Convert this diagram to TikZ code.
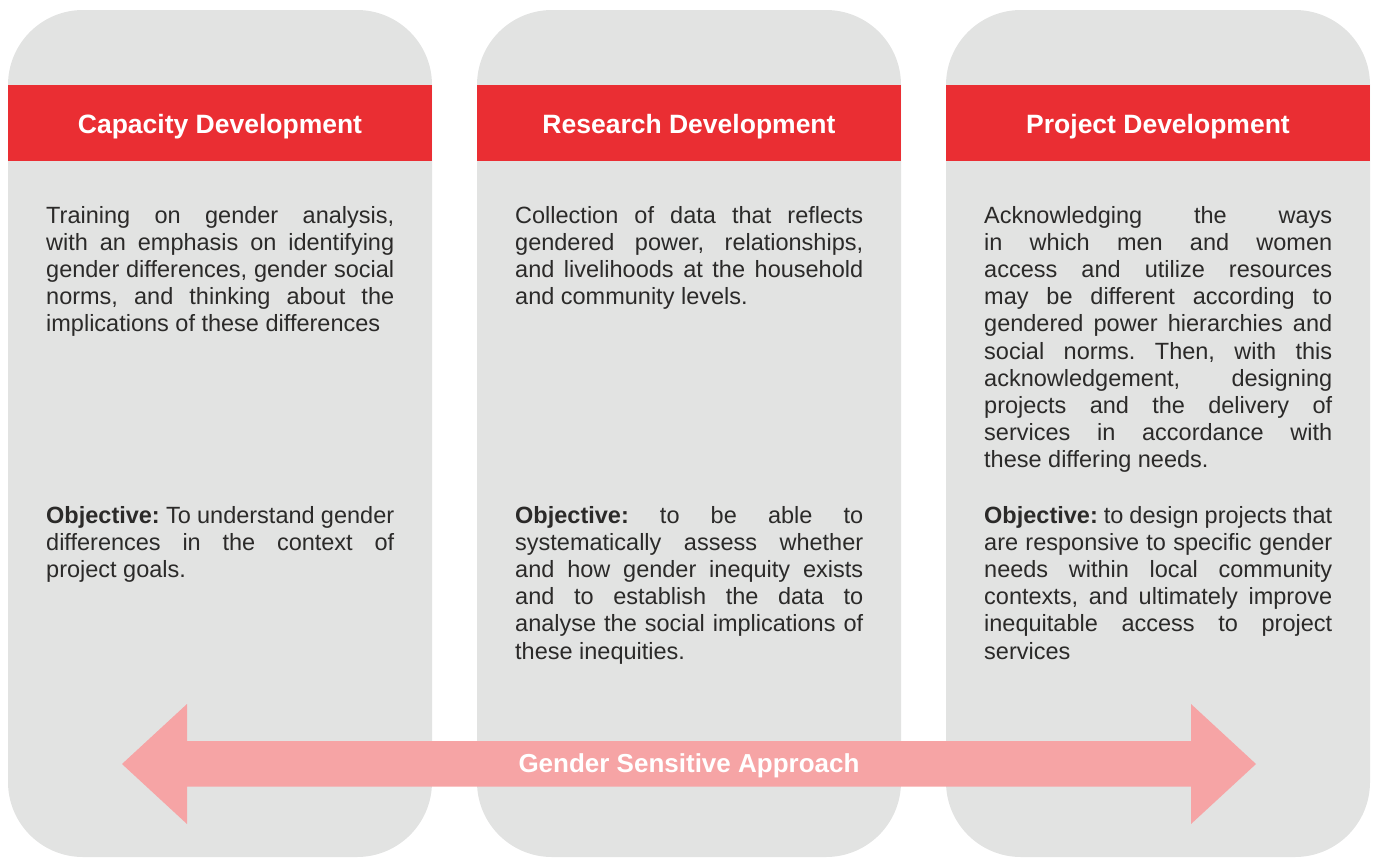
\documentclass[tikz,border=0pt]{standalone}
\usepackage{fontspec}
\setmainfont{Liberation Sans}
\frenchspacing
\definecolor{panelgray}{HTML}{E2E3E2}
\definecolor{bandred}{HTML}{EA2E33}
\definecolor{arrowpink}{HTML}{F6A4A5}
\definecolor{ink}{HTML}{2B2A29}
% justified column of body text; first line's baseline is the box baseline
\newcommand{\coltext}[1]{\parbox[t]{348pt}{\frenchspacing\tolerance=10000\hbadness=10000\parindent=0pt #1}}
\tikzset{
  panel/.style={fill=panelgray, rounded corners=75pt},
  band/.style={fill=bandred},
  headtext/.style={anchor=base, inner sep=0pt, text=white, font=\fontsize{26.5}{30}\selectfont\bfseries},
  bodytext/.style={anchor=base west, inner sep=0pt, text=ink, font=\fontsize{23.5}{27.2}\selectfont},
  arrowlabel/.style={anchor=base, inner sep=0pt, text=white, font=\fontsize{26}{30}\selectfont\bfseries}
}
\begin{document}
\begin{tikzpicture}[x=1pt, y=-1pt]
\useasboundingbox (0,0) rectangle (1375,857);

% three rounded panels with their red title bands
\foreach \px in {8,477,946} {
  \path[panel] (\px,10) rectangle ++(424,847);
  \path[band] (\px,85) rectangle ++(424,75.5);
}

\node[headtext] (h1) at (220,133) {Capacity Development};
\node[headtext] (h2) at (689,133) {Research Development};
\node[headtext] (h3) at (1158,133) {Project Development};

% panel 1
\node[bodytext] (d1) at (46,223) {\coltext{Training on gender analysis,\linebreak
with an emphasis on identifying\linebreak
gender differences, gender social\linebreak
norms, and thinking about the\linebreak
implications of these differences}};
\node[bodytext] (o1) at (46,523) {\coltext{\textbf{Objective:} To understand gender\linebreak
differences in the context of\linebreak
project goals.}};

% panel 2
\node[bodytext] (d2) at (515,223) {\coltext{Collection of data that reflects\linebreak
gendered power, relationships,\linebreak
and livelihoods at the household\linebreak
and community levels.}};
\node[bodytext] (o2) at (515,523) {\coltext{\textbf{Objective:} to be able to\linebreak
systematically assess whether\linebreak
and how gender inequity exists\linebreak
and to establish the data to\linebreak
analyse the social implications of\linebreak
these inequities.}};

% panel 3
\node[bodytext] (d3) at (984,223) {\coltext{Acknowledging the ways\linebreak
in which men and women\linebreak
access and utilize resources\linebreak
may be different according to\linebreak
gendered power hierarchies and\linebreak
social norms. Then, with this\linebreak
acknowledgement, designing\linebreak
projects and the delivery of\linebreak
services in accordance with\linebreak
these differing needs.}};
\node[bodytext] (o3) at (984,523) {\coltext{\textbf{Objective:} to design projects that\linebreak
are responsive to specific gender\linebreak
needs within local community\linebreak
contexts, and ultimately improve\linebreak
inequitable access to project\linebreak
services}};

% double-headed arrow across the panels
\fill[arrowpink] (122,764) -- (187,704) -- (187,741) -- (1191,741) -- (1191,704)
  -- (1256,764) -- (1191,824) -- (1191,786.5) -- (187,786.5) -- (187,824) -- cycle;
\node[arrowlabel] (ga) at (689,772.5) {Gender Sensitive Approach};
\end{tikzpicture}
\end{document}
